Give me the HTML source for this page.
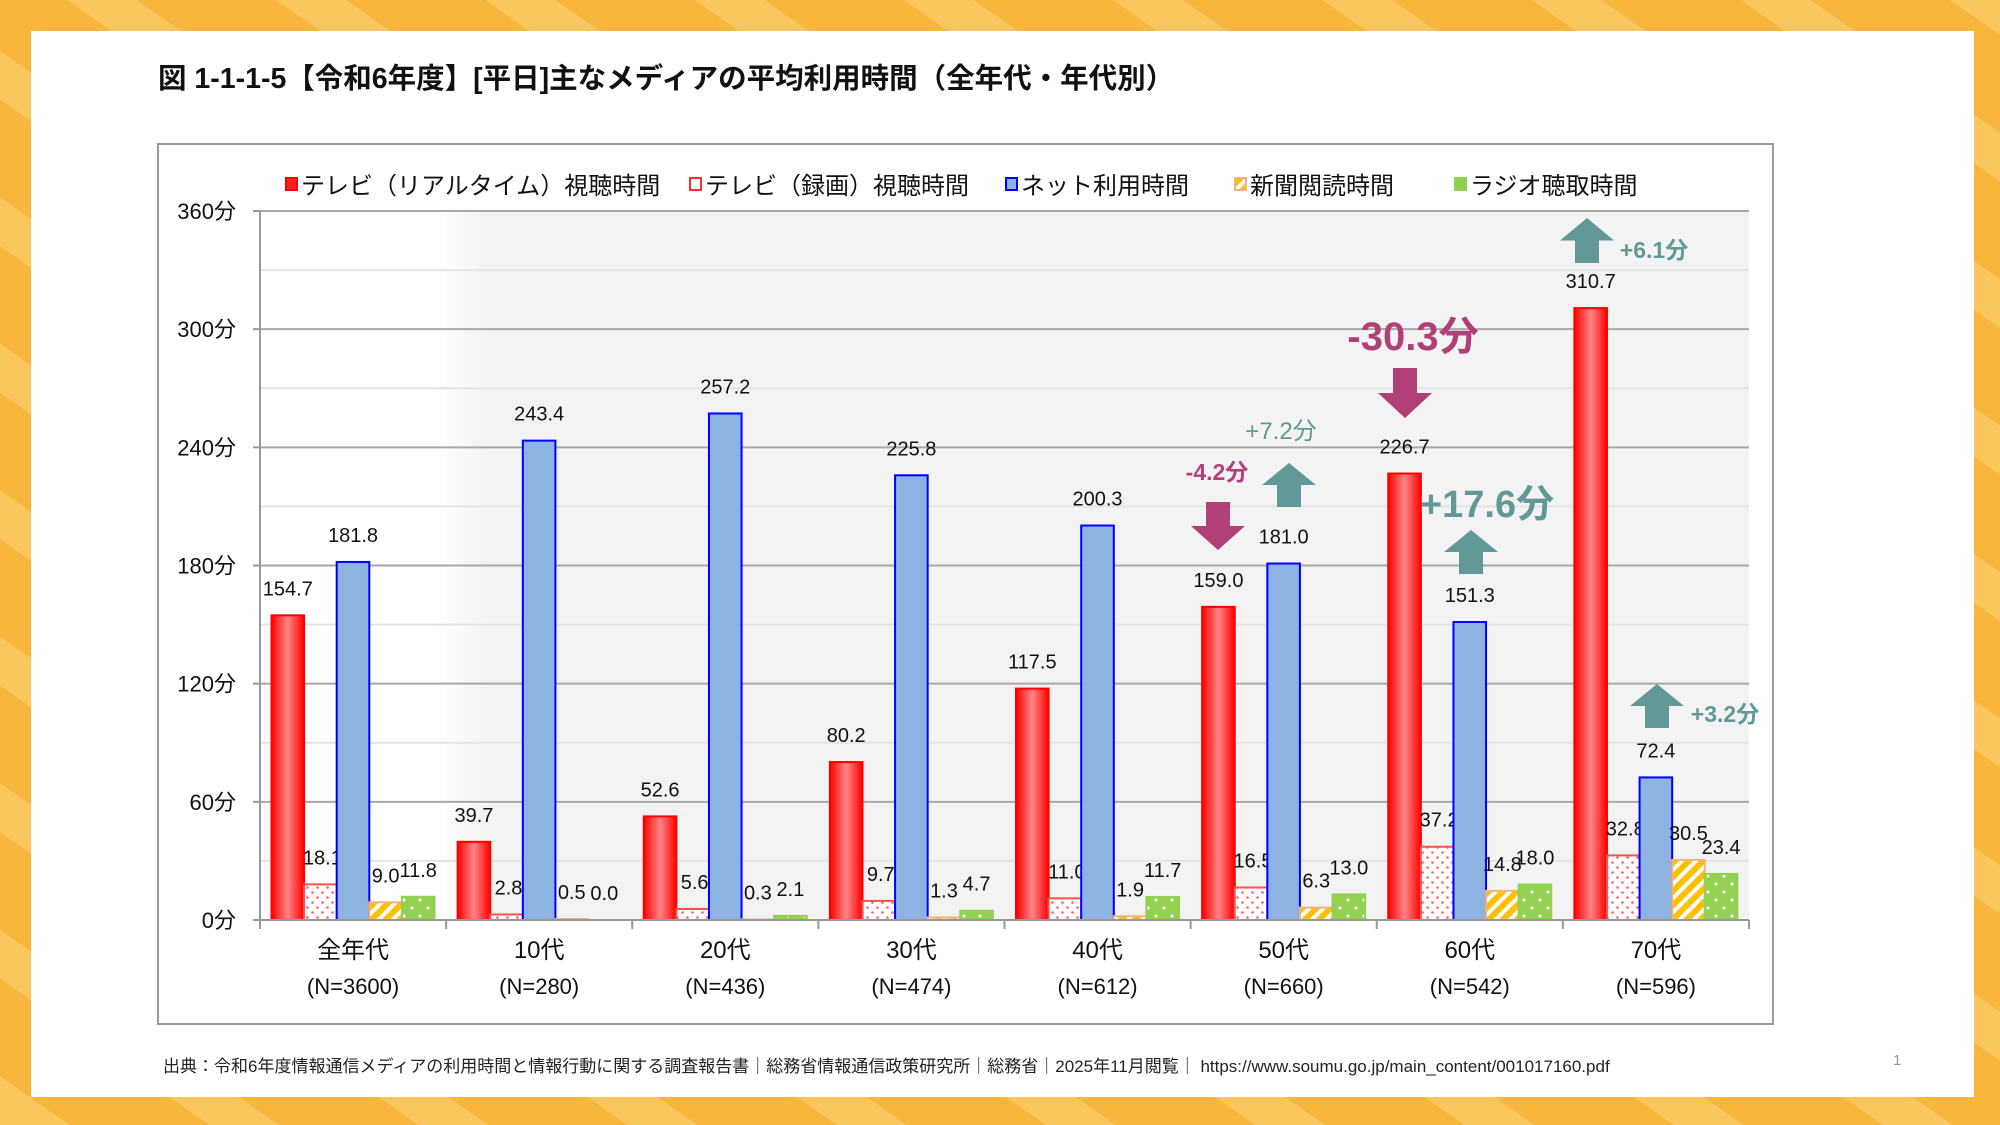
<!DOCTYPE html>
<html><head><meta charset="utf-8">
<style>
html,body{margin:0;padding:0;width:2000px;height:1125px;overflow:hidden;background:#f8b63c;}
body{font-family:"Liberation Sans","Noto Sans CJK JP",sans-serif;}
#card{position:absolute;left:31px;top:31px;width:1943px;height:1066px;background:#fff;}
#title{position:absolute;left:158px;top:56px;font-size:28.5px;font-weight:bold;color:#111;white-space:nowrap;}
#footer{position:absolute;left:163px;top:1052px;font-size:17px;color:#222;white-space:nowrap;}
#pnum{position:absolute;left:1893px;top:1052px;font-size:15px;color:#999;}
svg{position:absolute;left:0;top:0;}
</style></head><body>
<div id="bgstripes" style="position:absolute;inset:0;background:repeating-linear-gradient(35deg,rgba(255,230,160,0.35) 0 40px,rgba(0,0,0,0) 40px 120px);"></div>
<div id="card"></div>
<div id="title">図 1-1-1-5【令和6年度】[平日]主なメディアの平均利用時間（全年代・年代別）</div>
<svg id="chart" width="2000" height="1125"></svg>
<div id="footer">出典：令和6年度情報通信メディアの利用時間と情報行動に関する調査報告書｜総務省情報通信政策研究所｜総務省｜2025年11月閲覧｜ https://www.soumu.go.jp/main_content/001017160.pdf</div>
<div id="pnum">1</div>
<script>
const categories=["全年代","10代","20代","30代","40代","50代","60代","70代"];
const sampleN=["(N=3600)","(N=280)","(N=436)","(N=474)","(N=612)","(N=660)","(N=542)","(N=596)"];
const tvRealtime=[154.7,39.7,52.6,80.2,117.5,159.0,226.7,310.7];
const tvRecorded=[18.1,2.8,5.6,9.7,11.0,16.5,37.2,32.8];
const netUse=[181.8,243.4,257.2,225.8,200.3,181.0,151.3,72.4];
const newspaper=[9.0,0.5,0.3,1.3,1.9,6.3,14.8,30.5];
const radio=[11.8,0.0,2.1,4.7,11.7,13.0,18.0,23.4];
const seriesNames=["テレビ（リアルタイム）視聴時間","テレビ（録画）視聴時間","ネット利用時間","新聞閲読時間","ラジオ聴取時間"];
const yTicks=[0,60,120,180,240,300,360];

const NS="http://www.w3.org/2000/svg";
const svg=document.getElementById('chart');
function mk(tag,attrs,parent){const e=document.createElementNS(NS,tag);for(const k in attrs)e.setAttribute(k,attrs[k]);(parent||svg).appendChild(e);return e;}
const X0=260,X1=1749,Y0=920,Y1=211,YMAX=360;
const y=v=>Y0-(v/YMAX)*(Y0-Y1);
const gw=(X1-X0)/categories.length;
const bw=32.6;
const xb=(g,s)=>X0+g*gw+11.5+s*bw;

const defs=mk('defs',{});
defs.innerHTML=`
<linearGradient id="gRed" x1="0" x2="1"><stop offset="0" stop-color="#ff0000"/><stop offset="0.5" stop-color="#ff8585"/><stop offset="1" stop-color="#ff0000"/></linearGradient>
<linearGradient id="gBg" x1="0" x2="1"><stop offset="0" stop-color="#ffffff"/><stop offset="0.12" stop-color="#ffffff"/><stop offset="0.15" stop-color="#f3f3f3"/><stop offset="1" stop-color="#f3f3f3"/></linearGradient>
<pattern id="pDot" width="10" height="10" patternUnits="userSpaceOnUse"><rect width="10" height="10" fill="#fff"/><circle cx="2.5" cy="2.5" r="1.3" fill="#ff6060"/><circle cx="7.5" cy="7.5" r="1.3" fill="#ff6060"/></pattern>
<pattern id="pStripe" width="10" height="10" patternUnits="userSpaceOnUse" patternTransform="rotate(45)"><rect width="10" height="10" fill="#fff"/><rect width="6" height="10" fill="#ffc000"/></pattern>
<pattern id="pGreen" width="16" height="16" patternUnits="userSpaceOnUse"><rect width="16" height="16" fill="#92d050"/><circle cx="4" cy="4" r="1.6" fill="#fff"/><circle cx="12" cy="12" r="1.6" fill="#fff"/></pattern>`;

const fr=mk('rect',{x:158,y:144,width:1615,height:880,fill:'#fff',stroke:'#9a9a9a','stroke-width':2});

const pa=mk('rect',{x:X0,y:Y1,width:X1-X0,height:Y0-Y1,fill:'url(#gBg)'});

for(let v=30;v<=360;v+=30){
  const major=v%60===0;
  const l=mk('line',{x1:X0,x2:X1,y1:y(v),y2:y(v),stroke:major?'#a8a8a8':'#e4e4e4','stroke-width':2});
  
}
const ya=mk('line',{x1:X0,x2:X0,y1:Y1,y2:Y0,stroke:'#999','stroke-width':2});

yTicks.forEach(v=>{
  const t=mk('line',{x1:X0-7,x2:X0,y1:y(v),y2:y(v),stroke:'#999','stroke-width':2});
  
  const tx=mk('text',{x:236,y:y(v)+8,'text-anchor':'end','font-size':22,fill:'#111'});
  tx.textContent=v+'分';
  
});
const series=[tvRealtime,tvRecorded,netUse,newspaper,radio];
const fills=['url(#gRed)','url(#pDot)','#8db3e2','url(#pStripe)','url(#pGreen)'];
const strokes=['#ff0000','#ff5050','#0000ff','#f4b183','#92d050'];
const sname=['bar-tv-realtime','bar-tv-recorded','bar-net','bar-newspaper','bar-radio'];
series.forEach((arr,s)=>{
  arr.forEach((v,g)=>{
    const x=xb(g,s),top=y(v);
    const r=mk('rect',{x:x,y:top,width:bw,height:Y0-top,fill:fills[s],stroke:strokes[s],'stroke-width':2});
    
    const t=mk('text',{x:x+bw/2+(s===1?2:0),y:top-20,'text-anchor':'middle','font-size':20,fill:'#111'});
    t.textContent=v.toFixed(1);
    
  });
});
const xa=mk('line',{x1:X0,x2:X1,y1:Y0,y2:Y0,stroke:'#999','stroke-width':2});

for(let g=0;g<=categories.length;g++){
  const t=mk('line',{x1:X0+g*gw,x2:X0+g*gw,y1:Y0,y2:Y0+9,stroke:'#999','stroke-width':2});
  
}
categories.forEach((c,g)=>{
  const cx=X0+g*gw+gw/2;
  const t=mk('text',{x:cx,y:958,'text-anchor':'middle','font-size':24,fill:'#111'});t.textContent=c;
  
  const n=mk('text',{x:cx,y:994,'text-anchor':'middle','font-size':22,fill:'#111'});n.textContent=sampleN[g];
  
});
const legX=[286,690,1006,1235,1455];
const legFill=['#ff2020','#fff','#8db3e2','url(#pStripe)','#92d050'];
const legStroke=['#ff0000','#ff3030','#0000ff','#f4b183','#92d050'];
seriesNames.forEach((nm,i)=>{
  const gr=mk('g',{});
  
  mk('rect',{x:legX[i],y:178,width:11,height:12,fill:legFill[i],stroke:legStroke[i],'stroke-width':2},gr);
  const t=mk('text',{x:legX[i]+15,y:194,'font-size':24,fill:'#111'},gr);t.textContent=nm;
});
const MAG='#b04077',TEAL='#639899';
function arrow(cx,top,bot,up,color){
  const hw=27,sw=12,hh=(bot-top)*0.5;
  let pts;
  if(up) pts=[[cx,top],[cx+hw,top+hh],[cx+sw,top+hh],[cx+sw,bot],[cx-sw,bot],[cx-sw,top+hh],[cx-hw,top+hh]];
  else pts=[[cx,bot],[cx+hw,bot-hh],[cx+sw,bot-hh],[cx+sw,top],[cx-sw,top],[cx-sw,bot-hh],[cx-hw,bot-hh]];
  const p=mk('polygon',{points:pts.map(q=>q.join(',')).join(' '),fill:color});
  
}
function note(x,yy,txt,size,color,bold){
  const t=mk('text',{x:x,y:yy,'text-anchor':'middle','font-size':size,fill:color,'font-weight':bold?'bold':'normal'});
  t.textContent=txt;
}
arrow(1218,502,550,false,MAG); note(1217,480,'-4.2分',23,MAG,true);
arrow(1289,463,507,true,TEAL); note(1281,439,'+7.2分',24,TEAL,false);
arrow(1405,368,418,false,MAG); note(1413,350,'-30.3分',40,MAG,true);
arrow(1471,530,574,true,TEAL); note(1487,517,'+17.6分',38,TEAL,true);
arrow(1587,218,263,true,TEAL); note(1654,258,'+6.1分',23,TEAL,true);
arrow(1657,684,728,true,TEAL); note(1725,722,'+3.2分',23,TEAL,true);
</script>
</body></html>
